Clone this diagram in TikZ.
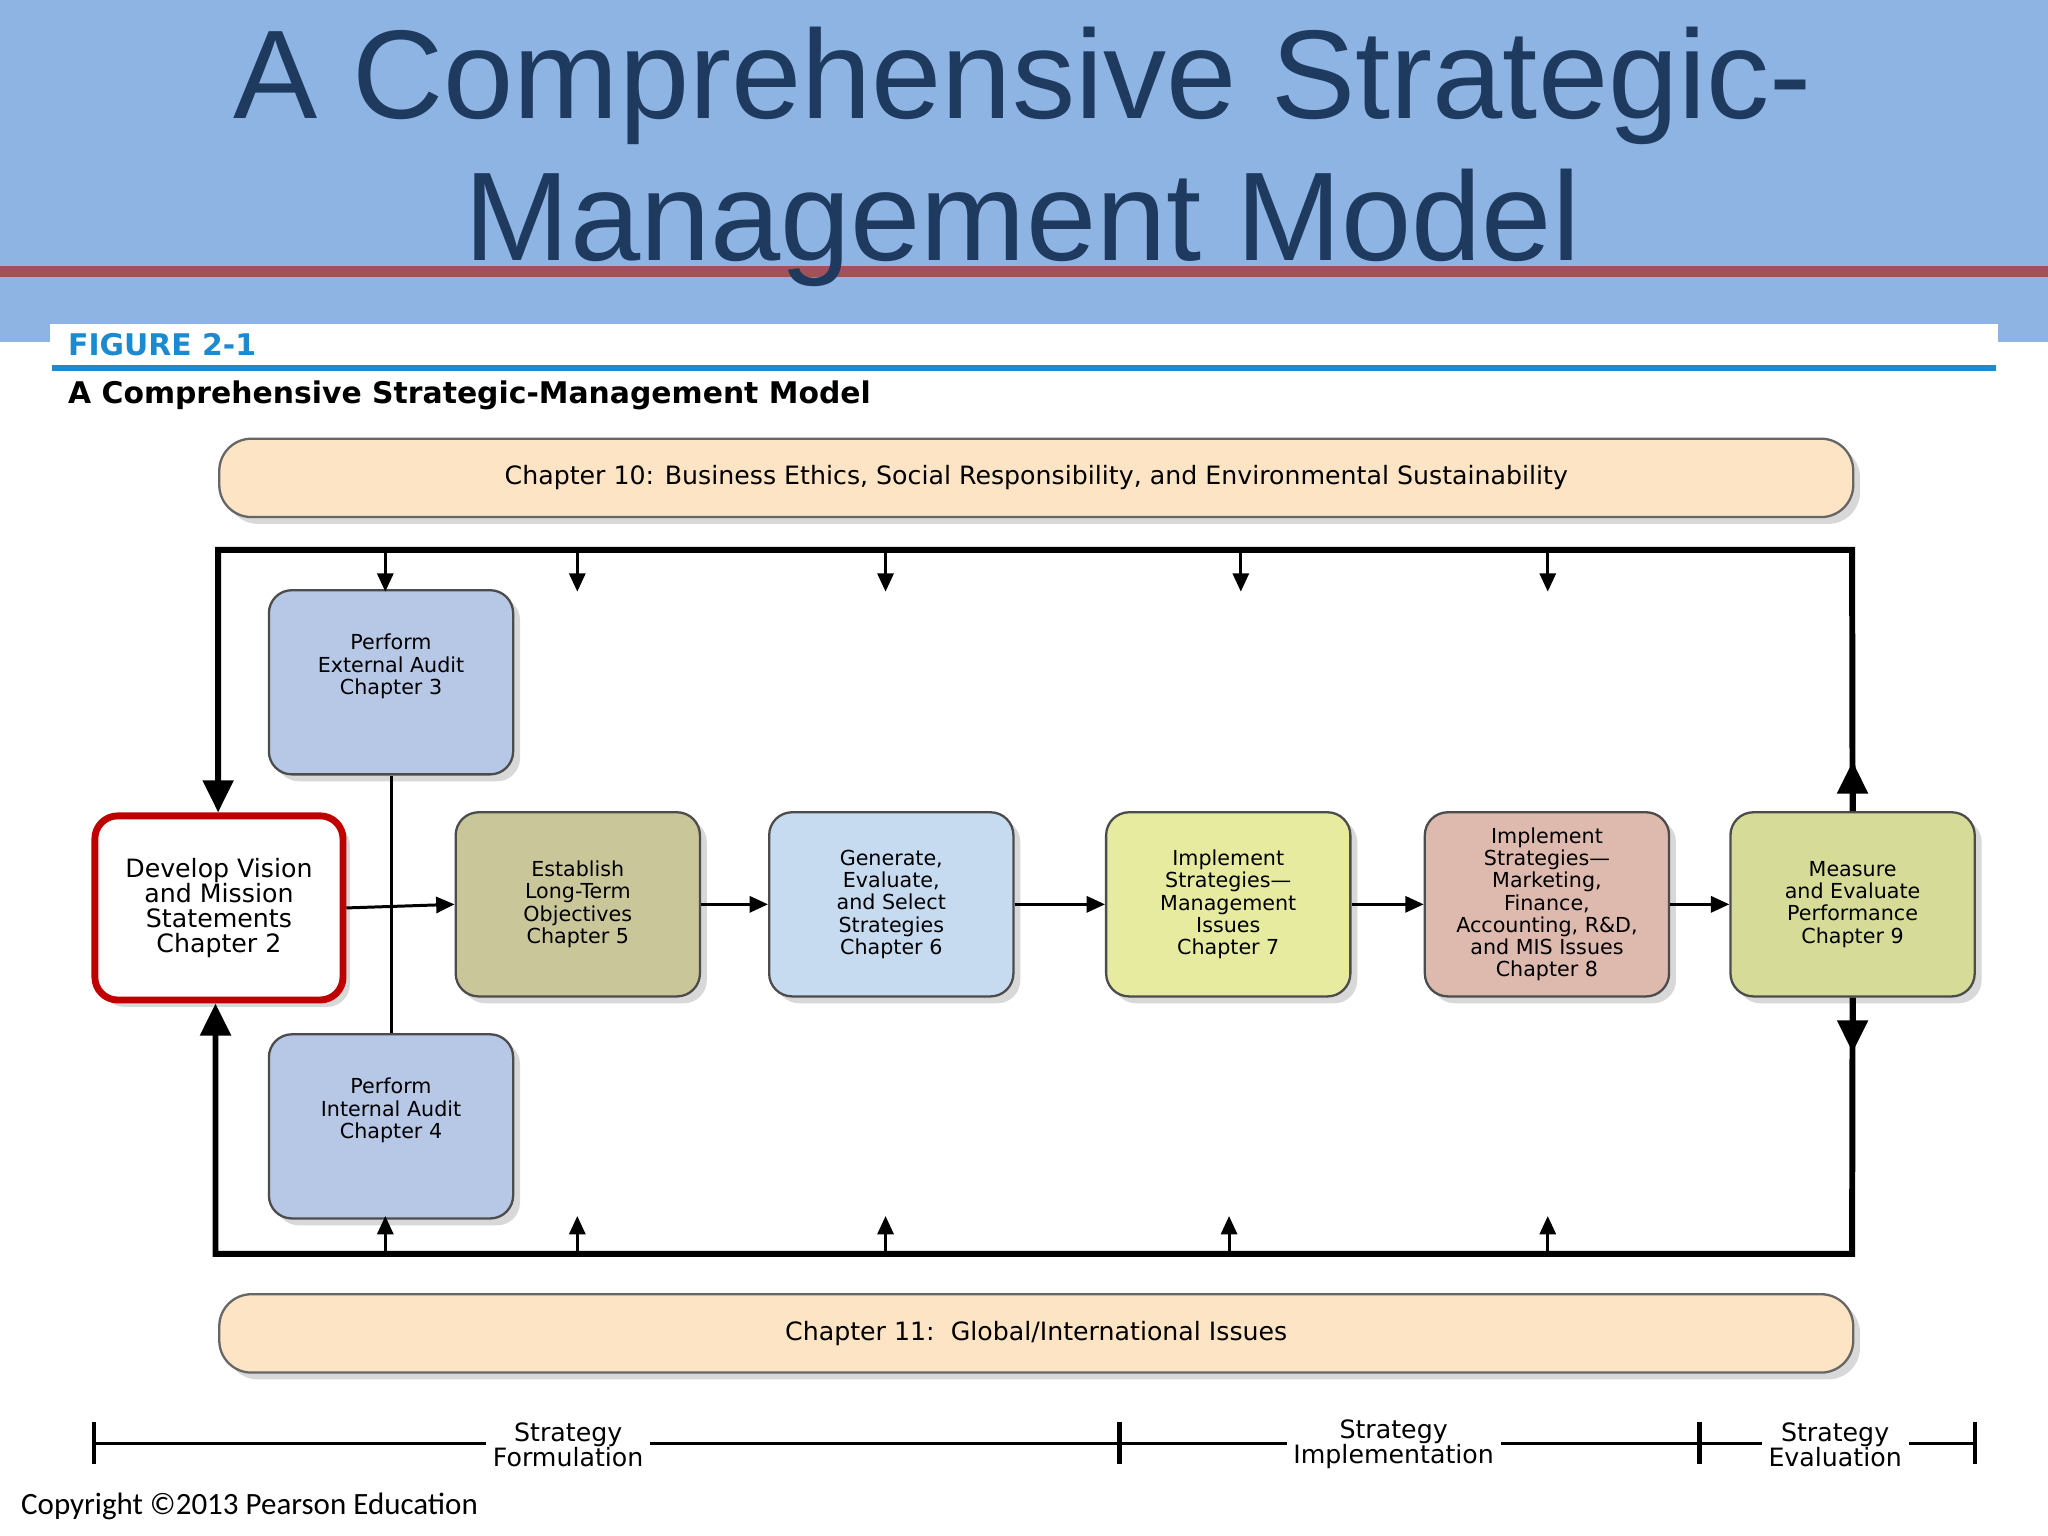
\documentclass[tikz,border=0pt]{standalone}
\usepackage{fontspec}
\setmainfont{DejaVu Sans}
\newfontfamily\titlefont{Liberation Sans}
\newfontfamily\copyfont{Carlito}
\usetikzlibrary{arrows.meta,shadows}
\definecolor{bandblue}{HTML}{8EB4E3}
\definecolor{titleblue}{HTML}{1F3A5F}
\definecolor{redline}{HTML}{A0525A}
\definecolor{figblue}{HTML}{1B8AD0}
\definecolor{peach}{HTML}{FCE4C4}
\tikzset{
  stepbox/.style={draw=black!70,line width=1pt,rounded corners=10pt,minimum width=187*0.02cm,minimum height=141*0.02cm,align=center,font=\fontsize{9}{9.7}\selectfont,drop shadow={opacity=0.3,shadow xshift=3pt,shadow yshift=-3pt},anchor=north west},
  chbox/.style={draw=black!60,line width=1pt,rounded corners=14pt,fill=peach,minimum width=1251*0.02cm,minimum height=60*0.02cm,font=\fontsize{11}{12}\selectfont,drop shadow={opacity=0.3,shadow xshift=3pt,shadow yshift=-3pt},anchor=north west},
  frame/.style={line width=2.6pt},
  arr/.style={line width=1.3pt,-{Triangle[length=8pt,width=7pt]}},
  bigarr/.style={line width=2.6pt,-{Triangle[length=14pt,width=13pt]}},
  tl/.style={font=\fontsize{11}{10.8}\selectfont,fill=white,align=center,inner sep=3pt}
}
\begin{document}
\begin{tikzpicture}[x=0.02cm,y=-0.02cm]
\useasboundingbox (0,0) rectangle (1568,1176);
\fill[white] (0,0) rectangle (1568,1176);
\fill[bandblue] (0,0) rectangle (1568,262);
\fill[white] (38,248) rectangle (1530,1176);
\fill[white] (0,262) rectangle (38,1176);
\fill[redline] (0,204) rectangle (1568,212);
\node[font=\titlefont\fontsize{55}{62}\selectfont,text=titleblue,align=center] (title) at (783,120) {A Comprehensive Strategic-\\Management Model};
\node[anchor=west,font=\bfseries\fontsize{13}{14}\selectfont,text=figblue] (fig) at (46,264) {FIGURE 2-1};
\draw[figblue,line width=2.5pt] (40,282) -- (1528,282);
\node[anchor=west,font=\bfseries\fontsize{13}{14}\selectfont] (sub) at (46,303) {A Comprehensive Strategic-Management Model};
\node[chbox] (c10) at (167,335) {Chapter 10: Business Ethics, Social Responsibility, and Environmental Sustainability};
\node[chbox] (c11) at (167,990) {Chapter 11:\ \ Global/International Issues};
% boxes
\node[stepbox,draw=red!75!black,line width=3pt,fill=white,minimum width=190*0.02cm,font=\fontsize{11}{10.8}\selectfont] (vis) at (70,622) {Develop Vision\\and Mission\\Statements\\Chapter 2};
\node[stepbox,fill={rgb,255:red,183;green,199;blue,230}] (ext) at (205,451) {Perform\\External Audit\\Chapter 3\\[6pt]};
\node[stepbox,fill={rgb,255:red,183;green,199;blue,230}] (int) at (205,791) {Perform\\Internal Audit\\Chapter 4\\[6pt]};
\node[stepbox,fill={rgb,255:red,201;green,199;blue,154}] (est) at (348,621) {Establish\\Long-Term\\Objectives\\Chapter 5};
\node[stepbox,fill={rgb,255:red,198;green,218;blue,240}] (gen) at (588,621) {Generate,\\Evaluate,\\and Select\\Strategies\\Chapter 6};
\node[stepbox,fill={rgb,255:red,230;green,235;blue,160}] (im7) at (846,621) {Implement\\Strategies---\\Management\\Issues\\Chapter 7};
\node[stepbox,fill={rgb,255:red,221;green,185;blue,174}] (im8) at (1090,621) {Implement\\Strategies---\\Marketing,\\Finance,\\Accounting, R\&D,\\and MIS Issues\\Chapter 8};
\node[stepbox,fill={rgb,255:red,214;green,220;blue,152}] (mea) at (1324,621) {Measure\\and Evaluate\\Performance\\Chapter 9};
% connectors
\draw[line width=1.3pt] (ext.south) -- (int.north);
\draw[arr] (vis.east) -- (est.west);
\draw[arr] (est.east) -- (gen.west);
\draw[arr] (gen.east) -- (im7.west);
\draw[arr] (im7.east) -- (im8.west);
\draw[arr] (im8.east) -- (mea.west);
% frame
\coordinate (tr) at (1418,421); \coordinate (tl) at (167,421);
\coordinate (br) at (1418,960); \coordinate (bl) at (165,960);
\draw[frame,-{Triangle[length=14pt,width=13pt]}] (mea.north) -- (tr) -- (tl) -- (vis.north -| tl);
\draw[frame,-{Triangle[length=14pt,width=13pt]}] (mea.south) -- (br) -- (bl) -- (vis.south -| bl);
\draw[bigarr] (mea.north) -- ++(0,-38);
\draw[bigarr] (mea.south) -- ++(0,42);
\foreach \x/\n in {295/a,442/b,678/c,950/d,1185/e}{
  \coordinate (t\n) at (\x,421);
  \draw[arr] (t\n) -- ++(0,32);}
\foreach \x/\n in {295/a,442/b,678/c,941/d,1185/e}{
  \coordinate (b\n) at (\x,960);
  \draw[arr] (b\n) -- ++(0,-29);}
% timeline
\coordinate (l0) at (72,1105); \coordinate (l1) at (857,1105);
\coordinate (l2) at (1301,1105); \coordinate (l3) at (1512,1105);
\draw[line width=1.5pt] (l0) -- (l3);
\foreach \p in {l0,l1,l2,l3}{\draw[line width=2pt] ([yshift=-16*0.02cm]\p) -- ([yshift=16*0.02cm]\p);}
\node[tl] (sf) at (435,1106) {Strategy\\Formulation};
\node[tl] (si) at (1067,1106) {Strategy\\Implementation};
\node[tl] (se) at (1405,1106) {Strategy\\Evaluation};
\node[anchor=west,font=\copyfont\fontsize{13.5}{14}\selectfont] (copy) at (10,1153) {Copyright ©2013 Pearson Education};
\end{tikzpicture}
\end{document}
